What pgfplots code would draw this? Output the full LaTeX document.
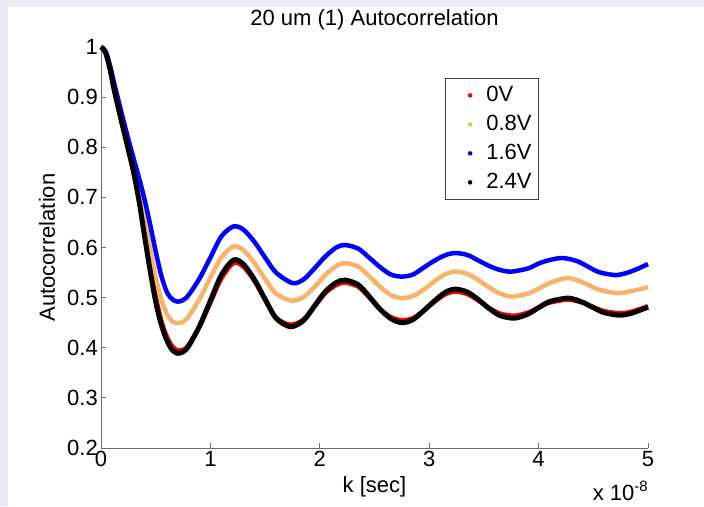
\documentclass[border=0pt]{standalone}
\usepackage{pgfplots}
\pgfplotsset{compat=1.18}
\usepackage{pgfplotstable}
\usepackage{fontspec}
\setmainfont{Liberation Sans}
\definecolor{figbg}{RGB}{232,236,242}
\definecolor{morange}{RGB}{248,178,106}
\definecolor{axgray}{RGB}{110,110,110}

\pgfplotstableread{
k v
0.00 1.000
0.04 0.990
0.08 0.959
0.12 0.917
0.16 0.879
0.20 0.843
0.25 0.798
0.30 0.752
0.35 0.696
0.40 0.628
0.45 0.562
0.50 0.502
0.55 0.455
0.60 0.423
0.65 0.403
0.70 0.395
0.75 0.396
0.80 0.405
0.90 0.442
1.00 0.490
1.10 0.538
1.21 0.569
1.30 0.562
1.40 0.534
1.50 0.496
1.60 0.460
1.73 0.446
1.85 0.456
1.95 0.482
2.05 0.509
2.15 0.525
2.23 0.530
2.35 0.522
2.45 0.501
2.55 0.477
2.65 0.461
2.75 0.455
2.85 0.459
2.95 0.474
3.05 0.492
3.15 0.507
3.24 0.512
3.35 0.507
3.45 0.494
3.55 0.479
3.65 0.468
3.78 0.464
3.90 0.470
4.00 0.480
4.10 0.490
4.27 0.496
4.40 0.490
4.50 0.481
4.60 0.473
4.74 0.469
4.85 0.472
5.00 0.483
}\redtab

\pgfplotstableread{
k v
0.00 1.000
0.04 0.991
0.08 0.962
0.12 0.922
0.16 0.885
0.20 0.849
0.25 0.806
0.30 0.762
0.35 0.712
0.40 0.655
0.45 0.596
0.50 0.540
0.55 0.497
0.60 0.468
0.65 0.453
0.70 0.449
0.75 0.452
0.80 0.462
0.90 0.497
1.00 0.540
1.10 0.580
1.21 0.602
1.30 0.595
1.40 0.570
1.50 0.537
1.60 0.508
1.74 0.494
1.85 0.501
1.95 0.521
2.05 0.545
2.15 0.563
2.23 0.569
2.35 0.562
2.45 0.543
2.55 0.522
2.65 0.505
2.75 0.499
2.85 0.503
2.95 0.516
3.05 0.533
3.15 0.547
3.24 0.552
3.35 0.547
3.45 0.535
3.55 0.520
3.65 0.508
3.76 0.502
3.90 0.508
4.00 0.518
4.10 0.529
4.25 0.539
4.35 0.535
4.45 0.526
4.55 0.516
4.72 0.509
4.85 0.513
5.00 0.521
}\orangetab

\pgfplotstableread{
k v
0.00 1.000
0.04 0.992
0.08 0.965
0.12 0.928
0.16 0.893
0.20 0.858
0.25 0.816
0.30 0.776
0.35 0.737
0.40 0.694
0.45 0.645
0.50 0.592
0.55 0.545
0.60 0.512
0.65 0.497
0.70 0.492
0.75 0.495
0.80 0.505
0.90 0.538
1.00 0.580
1.10 0.622
1.21 0.642
1.30 0.636
1.40 0.612
1.50 0.580
1.60 0.550
1.75 0.529
1.85 0.536
1.95 0.558
2.05 0.582
2.15 0.600
2.23 0.605
2.35 0.598
2.45 0.580
2.55 0.561
2.65 0.546
2.75 0.542
2.85 0.546
2.95 0.560
3.05 0.574
3.15 0.585
3.24 0.589
3.35 0.585
3.45 0.574
3.55 0.563
3.65 0.555
3.75 0.552
3.90 0.558
4.00 0.568
4.10 0.575
4.22 0.579
4.35 0.573
4.45 0.562
4.55 0.551
4.70 0.545
4.80 0.549
4.90 0.557
5.00 0.567
}\bluetab

\pgfplotstableread{
k v
0.00 1.000
0.04 0.990
0.08 0.958
0.12 0.915
0.16 0.877
0.20 0.840
0.25 0.795
0.30 0.748
0.35 0.690
0.40 0.620
0.45 0.553
0.50 0.492
0.55 0.447
0.60 0.416
0.65 0.396
0.70 0.389
0.75 0.392
0.80 0.403
0.90 0.443
1.00 0.494
1.10 0.545
1.21 0.575
1.30 0.567
1.40 0.537
1.50 0.497
1.60 0.459
1.73 0.442
1.85 0.454
1.95 0.483
2.05 0.512
2.15 0.530
2.23 0.535
2.35 0.526
2.45 0.503
2.55 0.477
2.65 0.458
2.75 0.450
2.85 0.456
2.95 0.474
3.05 0.494
3.15 0.511
3.24 0.517
3.35 0.511
3.45 0.496
3.55 0.478
3.65 0.464
3.78 0.459
3.90 0.467
4.00 0.480
4.10 0.492
4.27 0.499
4.40 0.491
4.50 0.480
4.60 0.470
4.74 0.465
4.85 0.469
5.00 0.481
}\blacktab

\begin{document}
\begin{tikzpicture}
\useasboundingbox (0,0) rectangle (704pt,-506pt);
\fill[figbg] (0,0) rectangle (704pt,-506pt);
\fill[white] (8pt,-7pt) rectangle (704pt,-506pt);
\begin{axis}[
  at={(101pt,-448pt)}, anchor=south west,
  scale only axis, width=547pt, height=401pt,
  xmin=0, xmax=5, ymin=0.2, ymax=1,
  clip=false,
  axis x line=bottom, axis y line=left,
  axis line style={-, draw=axgray, line width=0.8pt},
  tick align=inside, major tick length=5pt,
  tick style={draw=axgray, line width=0.8pt},
  xtick={0,1,2,3,4,5}, xticklabels={0,1,2,3,4,5},
  ytick={0.2,0.3,0.4,0.5,0.6,0.7,0.8,0.9,1},
  yticklabels={0.2,0.3,0.4,0.5,0.6,0.7,0.8,0.9,1},
  tick label style={font=\fontsize{22}{26}\selectfont},
  yticklabel style={inner xsep=3pt},
  xlabel={k [sec]}, ylabel={Autocorrelation},
  label style={font=\fontsize{22}{26}\selectfont},
  xlabel style={at={(axis description cs:0.5,-0.097)}, anchor=center},
  ylabel style={at={(axis description cs:-0.0987,0.5)}, anchor=center},
  title={20 um (1) Autocorrelation},
  title style={font=\fontsize{22}{26}\selectfont, at={(axis description cs:0.5,1.052)}, anchor=center},
  legend image code/.code={\path (-13pt,0pt) (16pt,0pt);
    \path[#1] (0pt,0pt) node[circle, fill, draw=none, inner sep=0pt, outer sep=0pt,
      text height=0pt, text depth=0pt, text width=0pt, minimum size=4.5pt, font=\tiny] {};},
  legend cell align=left,
  legend style={at={(0.6289,0.9227)}, anchor=north west, draw=black!75, line width=0.7pt,
    font=\fontsize{22}{26}\selectfont, inner xsep=7pt, inner ysep=6pt,
    nodes={inner sep=0pt, text height=17pt, text depth=5pt}, row sep=7pt},
]
\addplot[color=red, line width=4.5pt, smooth] table[x=k, y=v] {\redtab};
\addlegendentry{0V}
\addplot[color=morange, line width=4.5pt, smooth] table[x=k, y=v] {\orangetab};
\addlegendentry{0.8V}
\addplot[color=blue, line width=4.5pt, smooth] table[x=k, y=v] {\bluetab};
\addlegendentry{1.6V}
\addplot[color=black, line width=5pt, smooth] table[x=k, y=v] {\blacktab};
\addlegendentry{2.4V}
\node[anchor=base east, font=\fontsize{22}{26}\selectfont, inner sep=0pt] at (rel axis cs:1.0,-0.130) {x 10\raisebox{9pt}{\fontsize{15}{15}\selectfont -8}};
\end{axis}
\end{tikzpicture}
\end{document}
